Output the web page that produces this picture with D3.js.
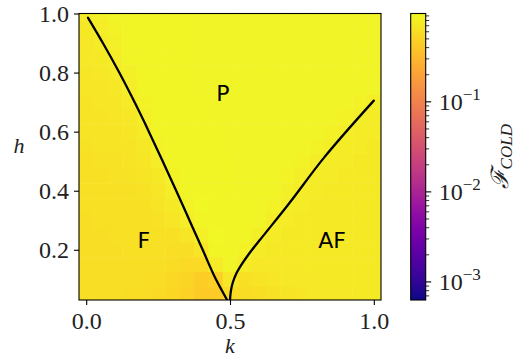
<!DOCTYPE html>
<html lang='en'>
<head>
	<meta charset='UTF-8'/>
	<title>Phase diagram</title>
	<script src='https://cdnjs.cloudflare.com/ajax/libs/d3/7.8.5/d3.min.js'></script>
	<style>
		body {margin: 0; background: #fff;}
		svg {display: block;}
	</style>
</head>
<body>
	<div class='graph'></div>
	<script>
		// grid coordinates (cell centres)
		const kVals = [0, 0.05, 0.1, 0.15, 0.2, 0.25, 0.3, 0.35, 0.4, 0.45, 0.5,
			0.55, 0.6, 0.65, 0.7, 0.75, 0.8, 0.85, 0.9, 0.95, 1.0];
		const hVals = [1.0, 0.95, 0.9, 0.85, 0.8, 0.75, 0.7, 0.65, 0.6, 0.55, 0.5,
			0.45, 0.4, 0.35, 0.3, 0.25, 0.2, 0.15, 0.1, 0.05];

		// F_COLD values, one row per h (top to bottom), one column per k
		const fCold = [
			[0.74,0.81,0.86,0.87,0.88,0.88,0.88,0.88,0.87,0.87,0.87,0.87,0.86,0.86,0.86,0.86,0.86,0.86,0.86,0.86,0.86],
			[0.72,0.77,0.85,0.88,0.88,0.88,0.88,0.88,0.87,0.87,0.87,0.87,0.86,0.86,0.86,0.86,0.86,0.86,0.86,0.86,0.86],
			[0.71,0.74,0.81,0.88,0.89,0.88,0.88,0.88,0.87,0.87,0.87,0.87,0.86,0.86,0.86,0.86,0.86,0.86,0.86,0.86,0.86],
			[0.70,0.72,0.77,0.86,0.90,0.89,0.88,0.88,0.87,0.87,0.87,0.87,0.86,0.86,0.86,0.86,0.86,0.86,0.86,0.86,0.86],
			[0.69,0.70,0.74,0.82,0.90,0.89,0.88,0.88,0.87,0.87,0.87,0.87,0.86,0.86,0.86,0.86,0.86,0.86,0.86,0.86,0.86],
			[0.68,0.69,0.71,0.77,0.88,0.90,0.89,0.88,0.87,0.87,0.87,0.87,0.86,0.86,0.86,0.86,0.86,0.86,0.86,0.86,0.86],
			[0.67,0.68,0.69,0.74,0.84,0.90,0.89,0.88,0.88,0.87,0.87,0.87,0.86,0.86,0.86,0.86,0.86,0.86,0.86,0.85,0.80],
			[0.67,0.67,0.68,0.71,0.80,0.90,0.90,0.89,0.88,0.87,0.87,0.87,0.86,0.86,0.86,0.86,0.86,0.86,0.85,0.80,0.76],
			[0.66,0.66,0.67,0.69,0.75,0.88,0.90,0.89,0.88,0.88,0.87,0.87,0.86,0.86,0.86,0.86,0.86,0.85,0.80,0.76,0.74],
			[0.65,0.66,0.66,0.67,0.71,0.84,0.90,0.90,0.89,0.88,0.87,0.87,0.86,0.86,0.86,0.86,0.85,0.80,0.76,0.74,0.73],
			[0.64,0.65,0.65,0.66,0.68,0.77,0.88,0.90,0.89,0.88,0.88,0.87,0.86,0.86,0.86,0.85,0.80,0.76,0.74,0.73,0.72],
			[0.64,0.64,0.65,0.65,0.66,0.72,0.85,0.90,0.90,0.89,0.88,0.87,0.87,0.86,0.85,0.80,0.76,0.74,0.73,0.72,0.72],
			[0.63,0.64,0.64,0.64,0.65,0.68,0.78,0.90,0.90,0.89,0.88,0.87,0.87,0.86,0.82,0.76,0.74,0.73,0.72,0.72,0.72],
			[0.63,0.63,0.64,0.64,0.64,0.66,0.72,0.84,0.91,0.90,0.88,0.88,0.87,0.84,0.77,0.74,0.73,0.72,0.72,0.72,0.72],
			[0.62,0.63,0.63,0.63,0.64,0.65,0.68,0.77,0.90,0.90,0.89,0.88,0.86,0.78,0.74,0.73,0.72,0.72,0.72,0.72,0.72],
			[0.62,0.62,0.63,0.63,0.63,0.64,0.64,0.68,0.82,0.91,0.90,0.88,0.80,0.74,0.73,0.72,0.72,0.72,0.72,0.72,0.72],
			[0.62,0.62,0.62,0.63,0.63,0.63,0.62,0.62,0.69,0.88,0.90,0.84,0.74,0.72,0.72,0.72,0.72,0.72,0.72,0.72,0.72],
			[0.62,0.62,0.62,0.62,0.62,0.61,0.59,0.56,0.57,0.76,0.86,0.74,0.70,0.70,0.71,0.71,0.72,0.72,0.72,0.72,0.72],
			[0.61,0.61,0.61,0.61,0.60,0.58,0.55,0.51,0.46,0.48,0.70,0.64,0.66,0.68,0.70,0.71,0.71,0.72,0.72,0.72,0.72],
			[0.61,0.61,0.61,0.60,0.59,0.57,0.53,0.49,0.44,0.43,0.60,0.60,0.62,0.65,0.67,0.69,0.70,0.71,0.71,0.72,0.72]
		];

		// phase boundaries
		const fpK = [0.006, 0.058, 0.115, 0.168, 0.218, 0.266, 0.313, 0.359, 0.405, 0.451, 0.49];
		const fpH = [0.986, 0.90, 0.80, 0.70, 0.60, 0.50, 0.40, 0.30, 0.20, 0.10, 0.03];
		const afK = [0.5, 0.503, 0.51, 0.522, 0.54, 0.565, 0.603, 0.70, 0.827, 1.0];
		const afH = [0.03, 0.06, 0.09, 0.12, 0.15, 0.185, 0.232, 0.35, 0.512, 0.705];

		// region labels
		const labelText = ['P', 'F', 'AF'];
		const labelK = [0.475, 0.20, 0.855];
		const labelH = [0.728, 0.231, 0.231];

		const xTicks = [0.0, 0.5, 1.0];
		const yTicks = [0.2, 0.4, 0.6, 0.8, 1.0];
		const cbarMajor = [1e-3, 1e-2, 1e-1];
		const cbarExp = ['\u22123', '\u22122', '\u22121'];
		const cbarDomain = [6.3e-4, 0.957];

		const SERIF = "'Liberation Serif', serif";

		var width = 520, height = 360;
		margin = ({top: 13.5, right: 139, bottom: 60, left: 79});

		var svg = d3.select('.graph').append('svg')
			.attr('width', width)
			.attr('height', height);

		const X = d3.scaleLinear().domain([-0.025, 1.025]).range([margin.left, width - margin.right]);
		const Y = d3.scaleLinear().domain([0.03, 1.0]).range([height - margin.bottom, margin.top]);
		const color = d3.scaleSequentialLog(d3.interpolatePlasma).domain(cbarDomain);

		svg.append('clipPath').attr('id', 'plot-clip')
			.append('rect')
			.attr('x', X.range()[0]).attr('y', Y.range()[1])
			.attr('width', X.range()[1] - X.range()[0])
			.attr('height', Y.range()[0] - Y.range()[1]);

		// heatmap cells
		let cells = [];
		hVals.forEach((h, i) => kVals.forEach((k, j) => cells.push({k: k, h: h, v: fCold[i][j]})));
		svg.append('g').attr('clip-path', 'url(#plot-clip)')
			.selectAll('rect')
			.data(cells)
			.enter()
			.append('rect')
			.attr('x', d => X(d.k - 0.025))
			.attr('y', d => Y(d.h + 0.025))
			.attr('width', d => X(d.k + 0.025) - X(d.k - 0.025) + 0.5)
			.attr('height', d => Y(d.h - 0.025) - Y(d.h + 0.025) + 0.5)
			.attr('fill', d => color(d.v));

		// boundaries
		const line = d3.line()
			.x(d => X(d[0]))
			.y(d => Y(d[1]))
			.curve(d3.curveMonotoneY);
		const plotLines = svg.append('g').attr('clip-path', 'url(#plot-clip)');
		[d3.zip(fpK, fpH), d3.zip(afK, afH)].forEach(pts => {
			plotLines.append('path')
				.attr('d', line(pts))
				.attr('fill', 'none')
				.attr('stroke', '#000')
				.attr('stroke-width', 2.3)
				.attr('stroke-linecap', 'round');
		});

		// region labels
		svg.append('g').selectAll('text')
			.data(labelText)
			.enter()
			.append('text')
			.attr('x', (d, i) => X(labelK[i]))
			.attr('y', (d, i) => Y(labelH[i]))
			.attr('text-anchor', 'middle')
			.attr('dominant-baseline', 'central')
			.style('font-family', "'DejaVu Sans', sans-serif")
			.style('font-size', '22px')
			.style('fill', '#000')
			.text(d => d);

		// axes
		const xAxis = svg.append('g')
			.attr('transform', 'translate(0,' + (height - margin.bottom) + ')')
			.call(d3.axisBottom(X).tickValues(xTicks).tickFormat(d3.format('.1f')).tickSizeOuter(0).tickSize(5).tickPadding(5));
		const yAxis = svg.append('g')
			.attr('transform', 'translate(' + margin.left + ',0)')
			.call(d3.axisLeft(Y).tickValues(yTicks).tickFormat(d3.format('.1f')).tickSizeOuter(0).tickSize(5).tickPadding(5));
		[xAxis, yAxis].forEach(ax => {
			ax.attr('font-family', null).attr('font-size', null);
			ax.select('.domain').remove();
			ax.selectAll('line').attr('stroke', '#000').attr('stroke-width', 1.1);
			ax.selectAll('text')
				.style('font-family', SERIF)
				.style('font-size', '24px')
				.style('fill', '#222');
		});
		xAxis.selectAll('text').attr('dy', '0.8em');
		yAxis.selectAll('text').attr('dy', '0.33em');

		svg.append('rect')
			.attr('x', X.range()[0]).attr('y', Y.range()[1])
			.attr('width', X.range()[1] - X.range()[0])
			.attr('height', Y.range()[0] - Y.range()[1])
			.attr('fill', 'none')
			.attr('stroke', '#000')
			.attr('stroke-width', 1.1);

		// axis titles
		[['k', X(0.5), 353], ['h', 19, 153]].forEach(t => {
			svg.append('text')
				.attr('x', t[1])
				.attr('y', t[2])
				.attr('text-anchor', 'middle')
				.style('font-family', SERIF)
				.style('font-size', '22px')
				.style('font-style', 'italic')
				.style('fill', '#222')
				.text(t[0]);
		});

		// colorbar
		const cb = {x: 410.7, w: 15};
		const CY = d3.scaleLog().domain(cbarDomain).range([height - margin.bottom, margin.top]);
		const grad = svg.append('defs').append('linearGradient')
			.attr('id', 'cbar-grad')
			.attr('x1', 0).attr('y1', 1).attr('x2', 0).attr('y2', 0);
		d3.range(0, 1.0001, 0.05).forEach(t => {
			grad.append('stop').attr('offset', t).attr('stop-color', d3.interpolatePlasma(t));
		});
		svg.append('rect')
			.attr('x', cb.x).attr('y', CY.range()[1])
			.attr('width', cb.w).attr('height', CY.range()[0] - CY.range()[1])
			.attr('fill', 'url(#cbar-grad)')
			.attr('stroke', '#000')
			.attr('stroke-width', 1.1);

		let minor = [6e-4, 7e-4, 8e-4, 9e-4];
		cbarMajor.forEach(m => [2, 3, 4, 5, 6, 7, 8, 9].forEach(f => minor.push(m * f)));
		minor = minor.filter(v => v >= cbarDomain[0] && v <= cbarDomain[1]);
		svg.append('g').selectAll('line')
			.data(minor)
			.enter()
			.append('line')
			.attr('x1', cb.x + cb.w).attr('x2', cb.x + cb.w + 3.5)
			.attr('y1', d => CY(d)).attr('y2', d => CY(d))
			.attr('stroke', '#000').attr('stroke-width', 0.8);
		svg.append('g').selectAll('line')
			.data(cbarMajor)
			.enter()
			.append('line')
			.attr('x1', cb.x + cb.w).attr('x2', cb.x + cb.w + 5.5)
			.attr('y1', d => CY(d)).attr('y2', d => CY(d))
			.attr('stroke', '#000').attr('stroke-width', 1.1);
		const cbl = svg.append('g').selectAll('text')
			.data(cbarMajor)
			.enter()
			.append('text')
			.attr('x', cb.x + cb.w + 13)
			.attr('y', d => CY(d) + 8)
			.style('font-family', SERIF)
			.style('font-size', '24px')
			.style('fill', '#222');
		cbl.append('tspan').text('10');
		cbl.append('tspan')
			.attr('dy', -10)
			.style('font-size', '17px')
			.text((d, i) => cbarExp[i]);

		const cbLabel = svg.append('text')
			.attr('transform', 'translate(508,' + ((CY.range()[0] + CY.range()[1]) / 2) + ') rotate(-90)')
			.attr('text-anchor', 'middle')
			.style('font-family', SERIF)
			.style('fill', '#222');
		cbLabel.append('tspan').style('font-size', '24px').style('font-style', 'italic').text('\u2131');
		cbLabel.append('tspan').attr('dy', 4).style('font-size', '17px').style('font-style', 'italic').text('COLD');
	</script>
</body>
</html>
